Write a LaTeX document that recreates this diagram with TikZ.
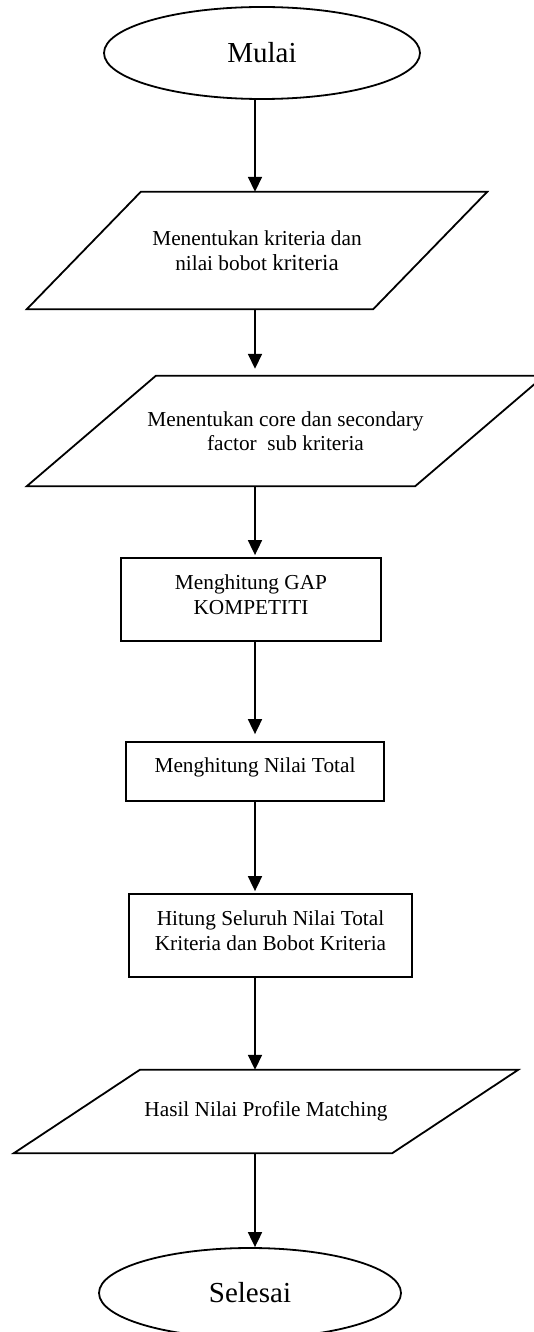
\documentclass[tikz,border=0pt]{standalone}
\usepackage{fontspec}
\setmainfont{Liberation Serif}
\usetikzlibrary{arrows.meta,shapes.geometric}
\begin{document}
\begin{tikzpicture}[x=1pt,y=-1pt,
  lw/.style={line width=1.8pt},
  term/.style={ellipse, draw, lw, inner sep=0pt, font=\fontsize{29}{34}\selectfont},
  procbox/.style={rectangle, draw, lw, inner sep=0pt, align=center, font=\fontsize{21.3}{24.5}\selectfont},
  iotext/.style={rectangle, inner sep=0pt, align=center, font=\fontsize{21.3}{24.5}\selectfont},
  arr/.style={lw, -{Triangle[length=15pt,width=14pt]}},
]
\useasboundingbox (0,0) rectangle (534,1332);
\clip (0,0) rectangle (534,1332);
\fill[white] (0,0) rectangle (534,1332);

\coordinate (ax) at (255,0);

\node[term, minimum width=316pt, minimum height=92pt] (mulai) at (262,53) {Mulai};

\node[iotext, minimum width=346pt, minimum height=117pt] (p1) at (257,250.5)
  {Menentukan kriteria dan\\nilai bobot {\fontsize{23}{24.5}\selectfont kriteria}};
\draw[lw] ([xshift=57pt]p1.north west) -- ([xshift=57pt]p1.north east)
  -- ([xshift=-57pt]p1.south east) -- ([xshift=-57pt]p1.south west) -- cycle;

\node[iotext, minimum width=388pt, minimum height=110pt] (p2) at (285.5,431)
  {Menentukan core dan secondary\\factor\ \ sub kriteria};
\draw[lw] ([xshift=64.5pt]p2.north west) -- ([xshift=64.5pt]p2.north east)
  -- ([xshift=-64.5pt]p2.south east) -- ([xshift=-64.5pt]p2.south west) -- cycle;

\node[procbox, minimum width=260pt, minimum height=83pt, text depth=10pt] (b1) at (251,599.5)
  {Menghitung GAP\\KOMPETITI};

\node[procbox, minimum width=258pt, minimum height=59pt, text depth=13pt] (b2) at (255,771.5)
  {Menghitung Nilai Total};

\node[procbox, minimum width=283pt, minimum height=83pt, text depth=10pt] (b3) at (270.5,935.5)
  {Hitung Seluruh Nilai Total\\Kriteria dan Bobot Kriteria};

\node[iotext, minimum width=378pt, minimum height=83pt] (p3) at (266,1111.5)
  {Hasil Nilai Profile Matching};
\draw[lw] ([xshift=63pt]p3.north west) -- ([xshift=63pt]p3.north east)
  -- ([xshift=-63pt]p3.south east) -- ([xshift=-63pt]p3.south west) -- cycle;

\node[term, minimum width=302pt, minimum height=90pt] (selesai) at (250,1293) {Selesai};

\draw[arr] (mulai.south -| ax) -- (p1.north -| ax);
\draw[arr, shorten >=7pt] (p1.south -| ax) -- (p2.north -| ax);
\draw[arr, shorten >=2pt] (p2.south -| ax) -- (b1.north -| ax);
\draw[arr, shorten >=7pt] (b1.south -| ax) -- (b2.north -| ax);
\draw[arr, shorten >=2pt] (b2.south -| ax) -- (b3.north -| ax);
\draw[arr] (b3.south -| ax) -- (p3.north -| ax);
\draw[arr] (p3.south -| ax) -- (selesai.north -| ax);
\end{tikzpicture}
\end{document}
